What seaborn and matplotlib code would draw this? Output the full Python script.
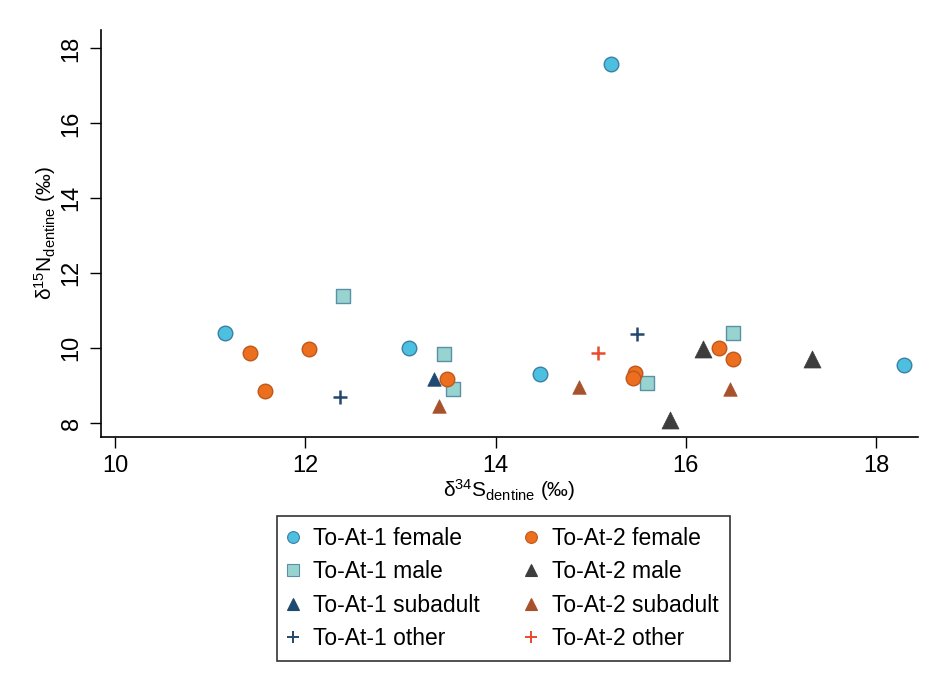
import matplotlib
matplotlib.use("Agg")
import matplotlib.pyplot as plt
from matplotlib.lines import Line2D
import seaborn as sns
import pandas as pd

# Data (x = d34S dentine, y = d15N dentine)
at1_female_x = [11.16, 13.09, 14.47, 15.21, 18.29]
at1_female_y = [10.42, 10.02, 9.31, 17.59, 9.55]
at1_male_x = [12.40, 13.46, 13.55, 15.59, 16.49]
at1_male_y = [11.40, 9.85, 8.91, 9.08, 10.42]
at1_sub_x = [13.35]
at1_sub_y = [9.17]
at1_other_x = [12.36, 15.49]
at1_other_y = [8.71, 10.37]
at2_female_x = [11.42, 12.04, 11.58, 13.49, 15.47, 15.44, 16.35, 16.50]
at2_female_y = [9.87, 9.99, 8.86, 9.19, 9.33, 9.22, 10.02, 9.72]
at2_male_x = [15.83, 16.18, 17.32]
at2_male_y = [8.08, 9.97, 9.72]
at2_sub_x = [13.41, 14.88, 16.46]
at2_sub_y = [8.46, 8.96, 8.91]
at2_other_x = [15.08]
at2_other_y = [9.87]

xticks = [10, 12, 14, 16, 18]
yticks = [8, 10, 12, 14, 16, 18]

series = {
    "To-At-1 female": (at1_female_x, at1_female_y),
    "To-At-1 male": (at1_male_x, at1_male_y),
    "To-At-1 subadult": (at1_sub_x, at1_sub_y),
    "To-At-1 other": (at1_other_x, at1_other_y),
    "To-At-2 female": (at2_female_x, at2_female_y),
    "To-At-2 male": (at2_male_x, at2_male_y),
    "To-At-2 subadult": (at2_sub_x, at2_sub_y),
    "To-At-2 other": (at2_other_x, at2_other_y),
}

rows = []
for g, (xs, ys) in series.items():
    for x, y in zip(xs, ys):
        rows.append({"group": g, "S": x, "N": y})
df = pd.DataFrame(rows)

styles = {
    "To-At-1 female": dict(marker="o", color="#4DC0DF", ec="#3A7FA6", s=110, lw=1.0),
    "To-At-1 male": dict(marker="s", color="#98D4CF", ec="#5B8FA8", s=95, lw=1.0),
    "To-At-1 subadult": dict(marker="^", color="#1E4A72", ec="#1E4A72", s=95, lw=0.5),
    "To-At-1 other": dict(marker="+", color="#24486E", ec="#24486E", s=110, lw=1.8),
    "To-At-2 female": dict(marker="o", color="#EB6F1E", ec="#C0571A", s=110, lw=1.0),
    "To-At-2 male": dict(marker="^", color="#3D3D3D", ec="#3D3D3D", s=150, lw=0.5),
    "To-At-2 subadult": dict(marker="^", color="#A8522C", ec="#A8522C", s=95, lw=0.5),
    "To-At-2 other": dict(marker="+", color="#E84A2C", ec="#E84A2C", s=110, lw=1.8),
}

sns.set_theme(style="white")
plt.rcParams["font.family"] = ["Liberation Sans", "DejaVu Sans"]
plt.rcParams["mathtext.fontset"] = "custom"
plt.rcParams["mathtext.rm"] = "Liberation Sans"
plt.rcParams["mathtext.it"] = "Liberation Sans:italic"
for k in ["text.color", "axes.labelcolor", "xtick.color", "ytick.color"]:
    plt.rcParams[k] = "black"

fig = plt.figure(figsize=(9.33, 6.82), dpi=100)
ax = fig.add_axes([0.108, 0.359, 0.876, 0.597])

order = ["To-At-1 female", "To-At-1 male", "To-At-1 subadult", "To-At-1 other",
         "To-At-2 female", "To-At-2 male", "To-At-2 subadult", "To-At-2 other"]
for g in order:
    st = styles[g]
    sub = df[df["group"] == g]
    kw = dict(data=sub, x="S", y="N", ax=ax, marker=st["marker"], s=st["s"],
              color=st["color"], legend=False, zorder=3, linewidth=st["lw"])
    if st["marker"] != "+":
        kw["edgecolor"] = st["ec"]
    sns.scatterplot(**kw)

ax.set_xlim(9.85, 18.44)
ax.set_ylim(7.63, 18.49)
ax.set_xticks(xticks)
ax.set_yticks(yticks)
ax.tick_params(axis="both", direction="out", length=8, width=1, color="black",
               labelsize=17, bottom=True, left=True, pad=5)
for lab in ax.get_yticklabels():
    lab.set_rotation(90)
    lab.set_va("center")
for side in ["top", "right"]:
    ax.spines[side].set_visible(False)
for side in ["left", "bottom"]:
    ax.spines[side].set_color("black")
    ax.spines[side].set_linewidth(1.2)

ax.set_xlabel(r"δ$^{34}$S$_{\mathrm{dentine}}$ (‰)", fontsize=15, labelpad=0)
ax.set_ylabel(r"δ$^{15}$N$_{\mathrm{dentine}}$ (‰)", fontsize=15, labelpad=2)

handles = []
for g in order:
    st = styles[g]
    if st["marker"] == "+":
        h = Line2D([], [], linestyle="none", marker="+", color=st["color"],
                   markersize=9, markeredgewidth=1.4)
    else:
        h = Line2D([], [], linestyle="none", marker=st["marker"],
                   markerfacecolor=st["color"], markeredgecolor=st["ec"],
                   markersize=8.5, markeredgewidth=0.8)
    handles.append(h)

leg = fig.legend(handles, order, ncol=2, loc="upper left",
                 bbox_to_anchor=(277.3 / 933, 1 - 515.7 / 682), fontsize=16.5,
                 frameon=True, fancybox=False, edgecolor="black",
                 handlelength=0.35, handletextpad=0.72, columnspacing=2.05,
                 labelspacing=0.445, borderpad=0.5, borderaxespad=0.0)
leg.get_frame().set_linewidth(1.2)

fig.savefig("out.png", dpi=100, facecolor="white")
